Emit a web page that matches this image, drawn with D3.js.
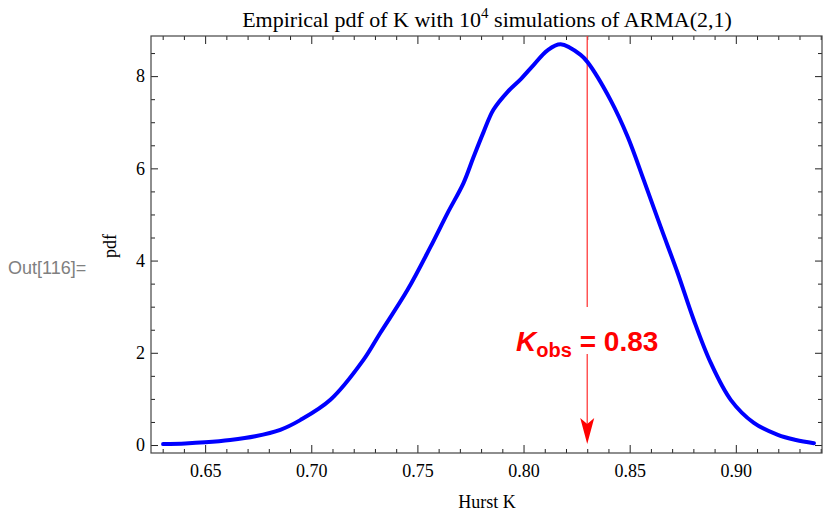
<!DOCTYPE html>
<html>
<head>
<meta charset="utf-8">
<script src="https://cdn.jsdelivr.net/npm/d3@7"></script>
<style>
  body { margin: 0; background: #fff; }
  svg { display: block; }
  .tick text { font-family: "Liberation Serif", "Times New Roman", serif; font-size: 18px; fill: #000; }
</style>
</head>
<body>
<script>
// values
var hurstK = [0.6302, 0.6406, 0.650, 0.6618, 0.6736, 0.6854, 0.6948, 0.709, 0.7245, 0.7325,
              0.7453, 0.7561, 0.7642, 0.7717, 0.7764, 0.7811, 0.7858, 0.7925, 0.7986, 0.8047,
              0.8113, 0.8175, 0.8269, 0.8302, 0.8410, 0.8491, 0.8566, 0.8646, 0.8726, 0.8802,
              0.8882, 0.8976, 0.9085, 0.9198, 0.9283, 0.9368];
var pdfVals = [0.02, 0.035, 0.06, 0.11, 0.19, 0.33, 0.54, 0.98, 1.84, 2.43,
               3.36, 4.29, 5.03, 5.68, 6.24, 6.78, 7.27, 7.66, 7.93, 8.24,
               8.56, 8.69, 8.46, 8.30, 7.48, 6.68, 5.75, 4.73, 3.73, 2.71,
               1.78, 0.98, 0.48, 0.22, 0.11, 0.04];
var xMajor = [0.65, 0.70, 0.75, 0.80, 0.85, 0.90];
var yMajor = [0, 2, 4, 6, 8];
var kObs = 0.83;

function draw() {
    var width = 823, height = 512;
    var pLeft = 151, pRight = 822, pTop = 36, pBottom = 453;

    var svg = d3.select("body").append("svg")
        .attr("width", width)
        .attr("height", height);

    var x = d3.scaleLinear().domain([0.6245, 0.9406]).range([pLeft, pRight]);
    var y = d3.scaleLinear().domain([-0.173, 8.87]).range([pBottom, pTop]);

    var xMinor = d3.range(63, 95).map(d => d / 100).filter(d => xMajor.indexOf(d) < 0);
    var yMinor = d3.range(0, 18).map(d => d / 2).filter(d => yMajor.indexOf(d) < 0);

    // frame axes, ticks pointing in
    function frameAxis(axis, vals, size, fmt) {
        return axis.tickValues(vals).tickSize(size).tickPadding(6).tickFormat(fmt);
    }
    var noLab = () => "";

    var gb = svg.append("g").attr("transform", "translate(0," + pBottom + ")");
    gb.call(frameAxis(d3.axisBottom(x), xMajor, -8, d3.format(".2f")));
    gb.append("g").call(frameAxis(d3.axisBottom(x), xMinor, -4, noLab));
    gb.selectAll(".tick text").attr("dy", "1.0em");

    var gt = svg.append("g").attr("transform", "translate(0," + pTop + ")");
    gt.call(frameAxis(d3.axisTop(x), xMajor, -8, noLab));
    gt.append("g").call(frameAxis(d3.axisTop(x), xMinor, -4, noLab));

    var gl = svg.append("g").attr("transform", "translate(" + pLeft + ",0)");
    gl.call(frameAxis(d3.axisLeft(y), yMajor, -7, d3.format("d")));
    gl.append("g").call(frameAxis(d3.axisLeft(y), yMinor, -4, noLab));

    var gr = svg.append("g").attr("transform", "translate(" + pRight + ",0)");
    gr.call(frameAxis(d3.axisRight(y), yMajor, -7, noLab));
    gr.append("g").call(frameAxis(d3.axisRight(y), yMinor, -4, noLab));

    svg.selectAll(".domain").remove();
    svg.selectAll(".tick line").attr("stroke", "#222").attr("stroke-width", 1);

    svg.append("rect")
        .attr("x", pLeft).attr("y", pTop)
        .attr("width", pRight - pLeft).attr("height", pBottom - pTop)
        .attr("fill", "none").attr("stroke", "#444").attr("stroke-width", 1.2);

    // red marker for K_obs
    var ax = x(kObs), base = y(0);
    svg.append("line")
        .attr("x1", ax).attr("x2", ax).attr("y1", pTop).attr("y2", 307)
        .attr("stroke", "#ff3b3b").attr("stroke-width", 1.3);
    svg.append("line")
        .attr("x1", ax).attr("x2", ax).attr("y1", 354).attr("y2", base - 20)
        .attr("stroke", "#ff3b3b").attr("stroke-width", 1.3);
    svg.append("path")
        .attr("d", "M" + (ax - 7) + "," + (base - 27) + "L" + ax + "," + (base - 1) + "L" + (ax + 7) + "," + (base - 27) + "L" + ax + "," + (base - 21) + "Z")
        .attr("fill", "#ff0000");

    // blue pdf curve
    var line = d3.line()
        .x((d, i) => x(hurstK[i]))
        .y(d => y(d))
        .curve(d3.curveCatmullRom.alpha(0.5));
    svg.append("path")
        .datum(pdfVals)
        .attr("d", line)
        .attr("fill", "none")
        .attr("stroke", "#0000ff")
        .attr("stroke-width", 4)
        .attr("stroke-linecap", "round")
        .attr("stroke-linejoin", "round");

    // annotation text
    var lab = svg.append("text")
        .attr("x", ax).attr("y", 351)
        .attr("text-anchor", "middle")
        .attr("font-family", "'Liberation Sans', Arial, sans-serif")
        .attr("font-weight", "bold")
        .attr("fill", "#ff0000")
        .attr("font-size", 28);
    lab.append("tspan").attr("font-style", "italic").text("K");
    lab.append("tspan").attr("font-size", 20).attr("dy", 6).text("obs");
    lab.append("tspan").attr("dy", -6).text(" = 0.83");

    // titles
    var title = svg.append("text")
        .attr("x", 487).attr("y", 27)
        .attr("text-anchor", "middle")
        .attr("font-family", "'Liberation Serif', 'Times New Roman', serif")
        .attr("font-size", 22);
    title.append("tspan").text("Empirical pdf of K with 10");
    title.append("tspan").attr("font-size", 15).attr("dy", -9).text("4");
    title.append("tspan").attr("dy", 9).text(" simulations of ARMA(2,1)");

    svg.append("text")
        .attr("x", 487).attr("y", 508)
        .attr("text-anchor", "middle")
        .attr("font-family", "'Liberation Serif', 'Times New Roman', serif")
        .attr("font-size", 18)
        .text("Hurst K");

    svg.append("text")
        .attr("transform", "translate(116,246) rotate(-90)")
        .attr("text-anchor", "middle")
        .attr("font-family", "'Liberation Serif', 'Times New Roman', serif")
        .attr("font-size", 18)
        .text("pdf");

    svg.append("text")
        .attr("x", 8).attr("y", 274)
        .attr("font-family", "Arial, 'Liberation Sans', sans-serif")
        .attr("font-size", 18)
        .attr("fill", "#808080")
        .text("Out[116]=");
}
draw();
</script>
</body>
</html>
